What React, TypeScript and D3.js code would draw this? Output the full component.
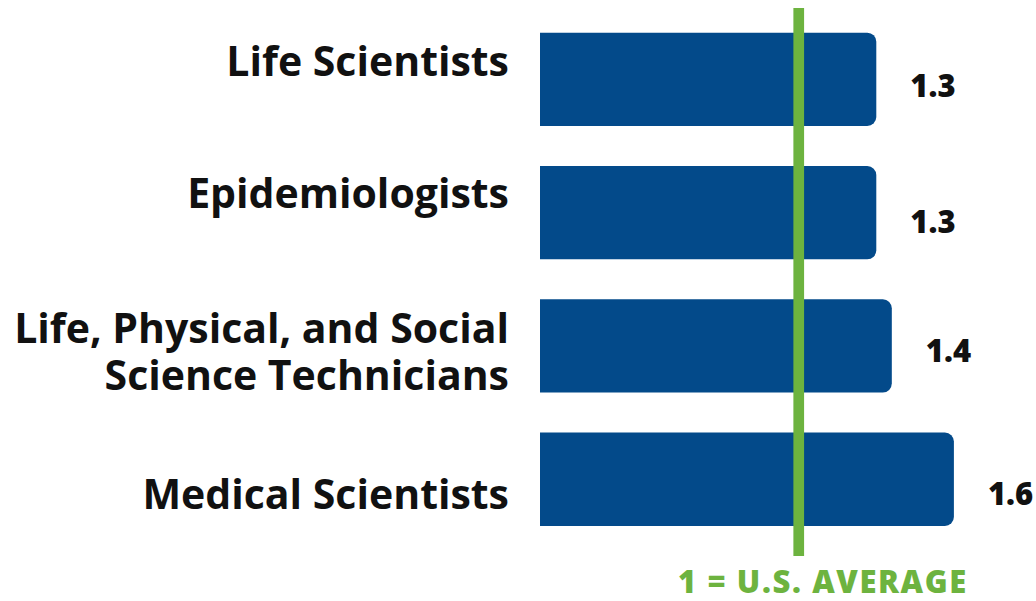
import React from "react";
import * as d3 from "d3";

const CATEGORIES = [
  "Life Scientists",
  "Epidemiologists",
  "Life, Physical, and Social Science Technicians",
  "Medical Scientists",
];
const CATEGORY_LINES: string[][] = [
  ["Life Scientists"],
  ["Epidemiologists"],
  ["Life, Physical, and Social", "Science Technicians"],
  ["Medical Scientists"],
];
const VALUES = [1.3, 1.3, 1.36, 1.6];
const VALUE_LABELS = ["1.3", "1.3", "1.4", "1.6"];
const REFERENCE_VALUE = 1;
const REFERENCE_LABEL = "1 = U.S. AVERAGE";

// layout constants (not data)
const W = 1036;
const H = 601;
const LABEL_NUDGE = [0, -2, 0, 33];
const VALUE_NUDGE = [0, 2, -2, 8];

const BAR_COLOR = "#034a8a";
const GREEN = "#6db33f";
const FONT = "'Open Sans', sans-serif";

function barPath(x0: number, x1: number, y0: number, h: number, r: number) {
  const p = d3.path();
  p.moveTo(x0, y0);
  p.lineTo(x1 - r, y0);
  p.arcTo(x1, y0, x1, y0 + r, r);
  p.lineTo(x1, y0 + h - r);
  p.arcTo(x1, y0 + h, x1 - r, y0 + h, r);
  p.lineTo(x0, y0 + h);
  p.closePath();
  return p.toString();
}

export default function App() {
  const x = d3.scaleLinear().domain([0, 1.6]).range([540, 953.9]);
  const y = d3
    .scaleBand<string>()
    .domain(CATEGORIES)
    .range([32.7, 525.9])
    .paddingInner(0.3)
    .paddingOuter(0);
  const bw = y.bandwidth();
  const refX = x(REFERENCE_VALUE);

  return (
    <svg
      width={W}
      height={H}
      style={{ position: "absolute", left: 0, top: 0, background: "#fff" }}
      fontFamily={FONT}
    >
      {CATEGORIES.map((c, i) => {
        const y0 = y(c)!;
        const cy = y0 + bw / 2;
        return (
          <g key={c}>
            <path d={barPath(x(0), x(VALUES[i]), y0, bw, 9)} fill={BAR_COLOR} />
            <text
              x={x(VALUES[i]) + 34}
              y={cy + 18 + VALUE_NUDGE[i]}
              fontSize={31}
              fontWeight={800}
              fill="#111"
            >
              {VALUE_LABELS[i]}
            </text>
            <text
              x={509}
              y={cy - 3 + LABEL_NUDGE[i]}
              textAnchor="end"
              fontSize={41}
              fontWeight={700}
              fill="#111"
            >
              {CATEGORY_LINES[i].map((line, j) => (
                <tspan key={j} x={509} dy={j === 0 ? 0 : 46.7}>
                  {line}
                </tspan>
              ))}
            </text>
          </g>
        );
      })}
      <rect x={refX - 5.3} y={8} width={10.7} height={548} fill={GREEN} />
      <text
        x={678}
        y={593}
        fontSize={31}
        fontWeight={800}
        fill={GREEN}
        letterSpacing={1.6}
      >
        {REFERENCE_LABEL}
      </text>
    </svg>
  );
}
